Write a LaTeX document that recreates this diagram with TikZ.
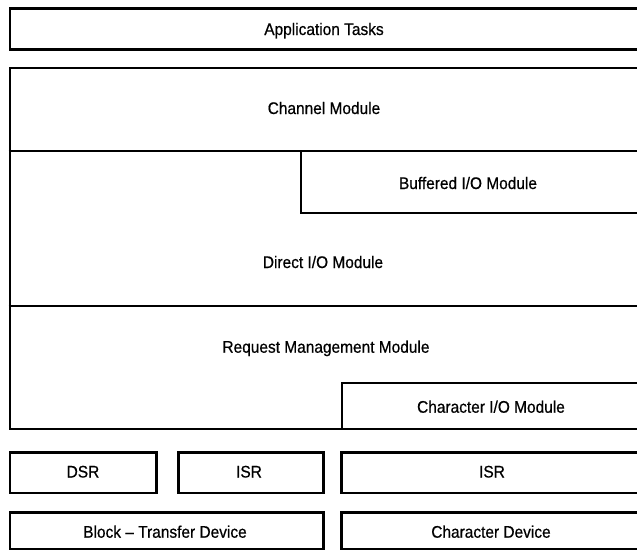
\documentclass[tikz,border=0pt]{standalone}
\usepackage{fontspec}
\setmainfont{Liberation Sans}[FakeStretch=0.92,FakeBold=0.6]
\begin{document}
\begin{tikzpicture}[x=1pt,y=-1pt,
  box/.style={draw, line width=2.8pt, rectangle, inner sep=0pt, anchor=north west},
  lbl/.style={font=\fontsize{16.8}{20}\selectfont, inner sep=0pt, anchor=base},
  inner/.style={line width=2pt}]
\clip (0,0) rectangle (637,549);
% boxes
\node[box, minimum width=641.5pt, minimum height=41pt] (app) at (8.5,7) {};
\node[box, minimum width=641.5pt, minimum height=361pt] (core) at (8.5,66.5) {};
\node[box, minimum width=146.5pt, minimum height=40.5pt] (dsr) at (8.5,451) {};
\node[box, minimum width=145pt, minimum height=40.5pt] (isra) at (177,451) {};
\node[box, minimum width=310pt, minimum height=40.5pt] (isrb) at (340,451) {};
\node[box, minimum width=313.5pt, minimum height=37pt] (blk) at (8.5,511) {};
\node[box, minimum width=310pt, minimum height=37pt] (chd) at (340,511) {};
% inner divisions
\coordinate (c1) at (8.5,151);
\coordinate (c2) at (650,151);
\coordinate (b1) at (300.5,151);
\coordinate (b2) at (300.5,212.5);
\coordinate (b3) at (650,212.5);
\coordinate (d1) at (8.5,306);
\coordinate (d2) at (650,306);
\coordinate (k1) at (341.5,427.5);
\coordinate (k2) at (341.5,383);
\coordinate (k3) at (650,383);
\draw[inner] (c1) -- (c2);
\draw[inner] (b1) -- (b2) -- (b3);
\draw[inner] (d1) -- (d2);
\draw[inner] (k1) -- (k2) -- (k3);
% labels
\node[lbl] (tapp) at (324,35) {Application Tasks};
\node[lbl] (tch) at (324,114) {Channel Module};
\node[lbl] (tbuf) at (468,189) {Buffered I/O Module};
\node[lbl] (tdir) at (323,268) {Direct I/O Module};
\node[lbl] (treq) at (326,352.7) {Request Management Module};
\node[lbl] (tcio) at (491,412.7) {Character I/O Module};
\node[lbl] (tdsr) at (83,477.5) {DSR};
\node[lbl] (tisra) at (249,477.5) {ISR};
\node[lbl] (tisrb) at (492,477.5) {ISR};
\node[lbl] (tblk) at (165,537.7) {Block -- Transfer Device};
\node[lbl] (tchd) at (491,537.7) {Character Device};
\end{tikzpicture}
\end{document}
